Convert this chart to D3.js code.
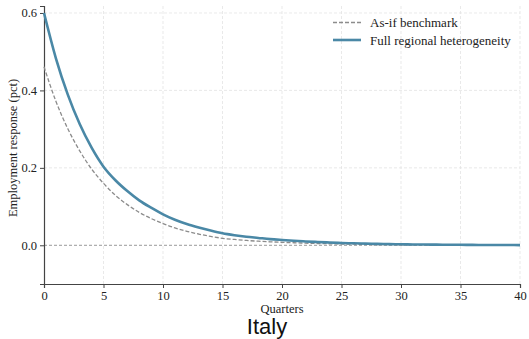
<!DOCTYPE html>
<html>
<head>
<meta charset="utf-8">
<script src="https://cdn.jsdelivr.net/npm/d3@7"></script>
<style>
  body { margin: 0; background: #fff; }
  .tick text { font-family: "Liberation Serif", "DejaVu Serif", serif; font-size: 12.5px; fill: #222; }
</style>
</head>
<body>
<div id="chart"></div>
<script>
// Quarters after the shock
var quarters = d3.range(0, 41);

// Full regional heterogeneity (solid)
var fullHet = [0.600, 0.483, 0.389, 0.313, 0.252, 0.203, 0.168, 0.140, 0.116, 0.097,
    0.080, 0.066, 0.055, 0.046, 0.038, 0.031, 0.026, 0.022, 0.019, 0.016,
    0.0137, 0.0116, 0.0099, 0.0084, 0.0071, 0.0060, 0.0051, 0.0043, 0.0037, 0.0031,
    0.0026, 0.0022, 0.0019, 0.0016, 0.0014, 0.0012, 0.0010, 0.0008, 0.0007, 0.0006, 0.0005];

// As-if benchmark (dashed)
var asIf = [0.461, 0.372, 0.301, 0.244, 0.197, 0.160, 0.129, 0.105, 0.085, 0.069,
    0.056, 0.045, 0.036, 0.029, 0.023, 0.018, 0.015, 0.0125, 0.0105, 0.0090,
    0.0077, 0.0065, 0.0055, 0.0046, 0.0039, 0.0033, 0.0028, 0.0023, 0.0019, 0.0016,
    0.0013, 0.0011, 0.0009, 0.0008, 0.0007, 0.0006, 0.0005, 0.0004, 0.0003, 0.0003, 0.0002];

var xTicks = [0, 5, 10, 15, 20, 25, 30, 35, 40];
var yTicks = [0.0, 0.2, 0.4, 0.6];
var legendLabels = ["As-if benchmark", "Full regional heterogeneity"];

var W = 529, H = 339;
var margin = { top: 6, right: 9, bottom: 55, left: 44 };
var width = W - margin.left - margin.right,
    height = H - margin.top - margin.bottom;

var serif = '"Liberation Serif", "DejaVu Serif", serif';

var svg = d3.select("#chart").append("svg")
    .attr("width", W)
    .attr("height", H);

var g = svg.append("g")
    .attr("transform", "translate(" + margin.left + "," + margin.top + ")");

var xScale = d3.scaleLinear().domain([0, 40]).range([0, width]);
var yScale = d3.scaleLinear().domain([-0.1, 0.618]).range([height, 0]);

// Grid
g.selectAll(".vgrid").data(xTicks.slice(1)).enter().append("line")
    .attr("x1", function (d) { return xScale(d); })
    .attr("x2", function (d) { return xScale(d); })
    .attr("y1", 0).attr("y2", height)
    .attr("stroke", "#e3e3e3").attr("stroke-width", 0.8)
    .attr("stroke-dasharray", "3,2");

g.selectAll(".hgrid").data(yTicks.slice(1)).enter().append("line")
    .attr("x1", 0).attr("x2", width)
    .attr("y1", function (d) { return yScale(d); })
    .attr("y2", function (d) { return yScale(d); })
    .attr("stroke", "#e3e3e3").attr("stroke-width", 0.8)
    .attr("stroke-dasharray", "3,2");

// Zero line
g.append("line")
    .attr("x1", 0).attr("x2", width)
    .attr("y1", yScale(0)).attr("y2", yScale(0))
    .attr("stroke", "#999").attr("stroke-width", 1)
    .attr("stroke-dasharray", "3,2");

// Axes
var xAxis = d3.axisBottom(xScale).tickValues(xTicks).tickFormat(d3.format("d")).tickSize(4).tickPadding(3);
var yAxis = d3.axisLeft(yScale).tickValues(yTicks).tickFormat(d3.format(".1f")).tickSize(4).tickPadding(3);

var gx = g.append("g").attr("transform", "translate(0," + height + ")").call(xAxis);
var gy = g.append("g").call(yAxis);
[gx, gy].forEach(function (a) {
    a.select(".domain").attr("stroke", "#444").attr("stroke-width", 1.2);
    a.selectAll(".tick line").attr("stroke", "#444");
});

var line = d3.line()
    .x(function (d, i) { return xScale(quarters[i]); })
    .y(function (d) { return yScale(d); })
    .curve(d3.curveMonotoneX);

g.append("path").datum(asIf)
    .attr("d", line)
    .attr("fill", "none")
    .attr("stroke", "#8c8c8c")
    .attr("stroke-width", 1.3)
    .attr("stroke-dasharray", "4,2");

g.append("path").datum(fullHet)
    .attr("d", line)
    .attr("fill", "none")
    .attr("stroke", "#4a88a6")
    .attr("stroke-width", 2.6);

// Legend
var legend = svg.append("g");
var legendY = [22.5, 40];
legend.append("line")
    .attr("x1", 333).attr("x2", 361).attr("y1", legendY[0]).attr("y2", legendY[0])
    .attr("stroke", "#8c8c8c").attr("stroke-width", 1.3).attr("stroke-dasharray", "4,2");
legend.append("line")
    .attr("x1", 333).attr("x2", 361).attr("y1", legendY[1]).attr("y2", legendY[1])
    .attr("stroke", "#4a88a6").attr("stroke-width", 2.6);
legend.selectAll("text").data(legendLabels).enter().append("text")
    .attr("x", 370)
    .attr("y", function (d, i) { return legendY[i] + 4.5; })
    .attr("font-family", serif)
    .attr("font-size", "13px")
    .attr("fill", "#222")
    .text(function (d) { return d; });

// Axis labels
svg.append("text")
    .attr("x", 282).attr("y", 313)
    .attr("text-anchor", "middle")
    .attr("font-family", serif).attr("font-size", "12.5px").attr("fill", "#222")
    .text("Quarters");

svg.append("text")
    .attr("transform", "translate(17," + (margin.top + height / 2 + 3) + ") rotate(-90)")
    .attr("text-anchor", "middle")
    .attr("font-family", serif).attr("font-size", "12.5px").attr("fill", "#222")
    .text("Employment response (pct)");

// Title
svg.append("text")
    .attr("x", 267).attr("y", 334)
    .attr("text-anchor", "middle")
    .attr("font-family", '"Liberation Sans", Arial, sans-serif')
    .attr("font-size", "22px").attr("fill", "#111")
    .text("Italy");
</script>
</body>
</html>
